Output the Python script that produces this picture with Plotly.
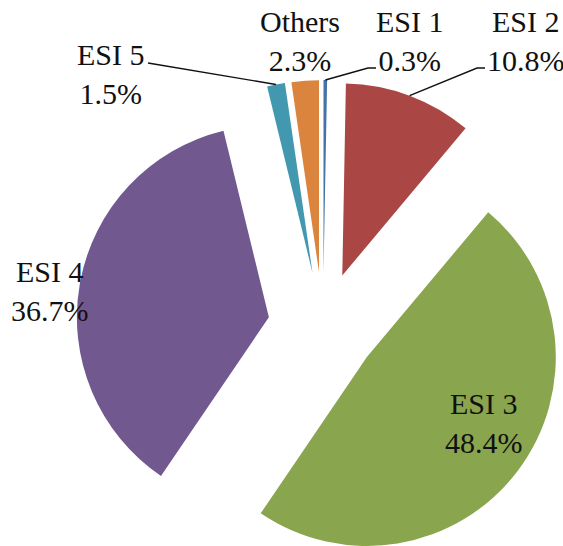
import math
import plotly.graph_objects as go

# Share of patients by triage level (percent)
labels = ["ESI 1", "ESI 2", "ESI 3", "ESI 4", "ESI 5", "Others"]
shares = [0.3, 10.8, 48.4, 36.7, 1.5, 2.3]
colors = ["#4572A7", "#AA4643", "#89A54E", "#71588F", "#4198AF", "#DB843D"]

W, H = 563, 546
CX, CY = 323, 327      # centre of the exploded pie, px
RADIUS = 192           # slice radius, px
PULL = 55              # explosion distance, px

# label placement (centre of text block, px) and optional leader-line elbows
label_pos = {
    "ESI 1": (410, 41),
    "ESI 2": (526, 41),
    "ESI 3": (484, 423),
    "ESI 4": (50, 291),
    "ESI 5": (111, 74),
    "Others": (300, 41),
}
leader = {
    "ESI 5": [(148, 63)],
    "ESI 1": [(368, 68), (376, 68)],
    "ESI 2": [(477, 68), (485, 68)],
}


def px_to_paper(x, y):
    return x / W, 1 - y / H


total = sum(shares)
mids = []
acc = 0.0
for v in shares:
    mids.append((acc + v / 2) / total * 2 * math.pi)
    acc += v


def unit(a):
    # clockwise from 12 o'clock, screen coordinates (y down)
    return math.sin(a), -math.cos(a)


fig = go.Figure()
for i, lab in enumerate(labels):
    ux, uy = unit(mids[i])
    cx, cy = CX + PULL * ux, CY + PULL * uy
    x0 = max(0.0, (cx - RADIUS) / W)
    x1 = min(1.0, (cx + RADIUS) / W)
    y0 = max(0.0, 1 - (cy + RADIUS) / H)
    y1 = min(1.0, 1 - (cy - RADIUS) / H)
    slice_colors = [c if j == i else "rgba(0,0,0,0)" for j, c in enumerate(colors)]
    fig.add_trace(go.Pie(
        labels=labels, values=shares, sort=False,
        direction="clockwise", rotation=0,
        marker=dict(colors=slice_colors, line=dict(width=0)),
        textinfo="none", hoverinfo="skip", showlegend=False,
        domain=dict(x=[x0, x1], y=[y0, y1]),
    ))

font = dict(family="Liberation Serif", size=30, color="#111111")

annotations = []
shapes = []
for i, lab in enumerate(labels):
    lx, ly = label_pos[lab]
    px, py = px_to_paper(lx, ly)
    annotations.append(dict(
        x=px, y=py, xref="paper", yref="paper",
        text=f"{lab}<br>{shares[i]:.1f}%",
        showarrow=False, font=font, align="center",
        xanchor="center", yanchor="middle",
    ))
    if lab in leader:
        ux, uy = unit(mids[i])
        ax, ay = CX + (PULL + RADIUS) * ux, CY + (PULL + RADIUS) * uy
        pts = [(ax, ay)] + leader[lab]
        path = ""
        for k, (x, y) in enumerate(pts):
            qx, qy = px_to_paper(x, y)
            path += ("M" if k == 0 else "L") + f"{qx:.5f},{qy:.5f} "
        shapes.append(dict(type="path", xref="paper", yref="paper", path=path.strip(),
                           line=dict(color="#111111", width=1.4)))

fig.update_layout(
    width=W, height=H,
    margin=dict(l=0, r=0, t=0, b=0),
    paper_bgcolor="white", plot_bgcolor="white",
    annotations=annotations, shapes=shapes,
    showlegend=False,
)

fig.write_html("out.html")
